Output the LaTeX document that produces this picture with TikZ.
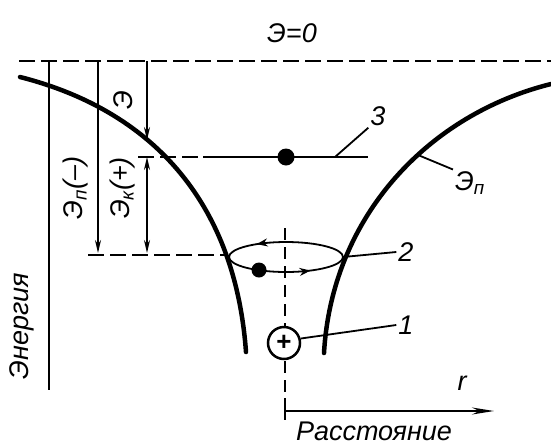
\documentclass[tikz,border=0pt]{standalone}
\usepackage{fontspec}
\setmainfont{Liberation Sans}
\usetikzlibrary{arrows.meta,decorations.markings}

\begin{document}
\begin{tikzpicture}[x=1pt,y=-1pt,
    curve/.style={line width=4.5pt, line cap=round},
    guide/.style={line width=1.8pt},
    level/.style={line width=2.5pt, dash pattern=on 16pt off 6pt},
    lbl/.style={font=\fontsize{27}{27}\selectfont\itshape, inner sep=2pt},
    tip/.style={-{Stealth[length=13pt,width=6pt]}}]
    \useasboundingbox (0,0) rectangle (551,445);

    % Energy levels
    \node[lbl] (zero) at (292,33) {Э=0};
    \draw[level] (19,61) -- (551,61);
    \draw[level] (138,157) -- (203,157);
    \draw[guide, line width=2.5pt] (203,157) -- (368,157);
    \draw[level] (88,255) -- (228,255);

    % Potential curves
    \draw[curve] (20,77) .. controls (150,110) and (235,200) .. (246,352);
    \draw[curve] (551,84) .. controls (430,114) and (332,215) .. (324,353);

    % Axis and arrows
    \draw[guide] (49,61) -- (49,390);
    \draw[guide, tip] (98,61) -- (98,253);
    \draw[guide, tip] (147,61) -- (147,140);
    \draw[guide, {Stealth[length=13pt,width=6pt]}-{Stealth[length=13pt,width=6pt]}] (147,157) -- (147,253);
    \node[lbl, rotate=90] (energy) at (22,326) {Энергия};
    \node[lbl, rotate=90] (etot) at (123,100) {Э};
    \node[lbl, rotate=90] (epot) at (76,188) {Э\textsubscript{п}(–)};
    \node[lbl, rotate=90] (ekin) at (123,188) {Э\textsubscript{к}(+)};

    % Nucleus and orbit
    \draw[line width=2.5pt, dash pattern=on 12pt off 7pt] (285,228) -- (285,420);
    \draw[guide, postaction={decorate}, decoration={markings,
        mark=at position 0.15 with {\arrowreversed{Stealth[length=11pt,width=8pt]}},
        mark=at position 0.63 with {\arrowreversed{Stealth[length=11pt,width=8pt]}}}]
        (286,257) ellipse [x radius=57, y radius=15];
    \coordinate (orbit) at (343,257);
    \fill (259,270) circle (7.5);
    \fill (286,157) circle (8.5);
    \node[circle, draw, line width=2.5pt, fill=white, minimum size=32pt, inner sep=0pt,
        font=\fontsize{26}{26}\selectfont\bfseries] (ion) at (284,343) {+};

    % Distance axis
    \draw[guide] (285,398) -- (285,420);
    \draw[guide, -{Stealth[length=22pt,width=7pt]}] (285,411) -- (494,411);
    \node[lbl] (r) at (462,383) {r};
    \node[lbl] (dist) at (374,431) {Расстояние};

    % Labels
    \coordinate (free) at (335,157);
    \coordinate (wall) at (418,155);
    \node[lbl] (lbl3) at (378,116) {3};
    \node[lbl] (lbl2) at (406,252) {2};
    \node[lbl] (lbl1) at (406,325) {1};
    \node[lbl] (lblEp) at (470,183) {Э\textsubscript{п}};
    \draw[guide] (free) -- (lbl3.south west);
    \draw[guide] (orbit) -- (lbl2.west);
    \draw[guide] (ion.15) -- (lbl1.west);
    \draw[guide] (wall) -- (lblEp.north west);
\end{tikzpicture}
\end{document}
